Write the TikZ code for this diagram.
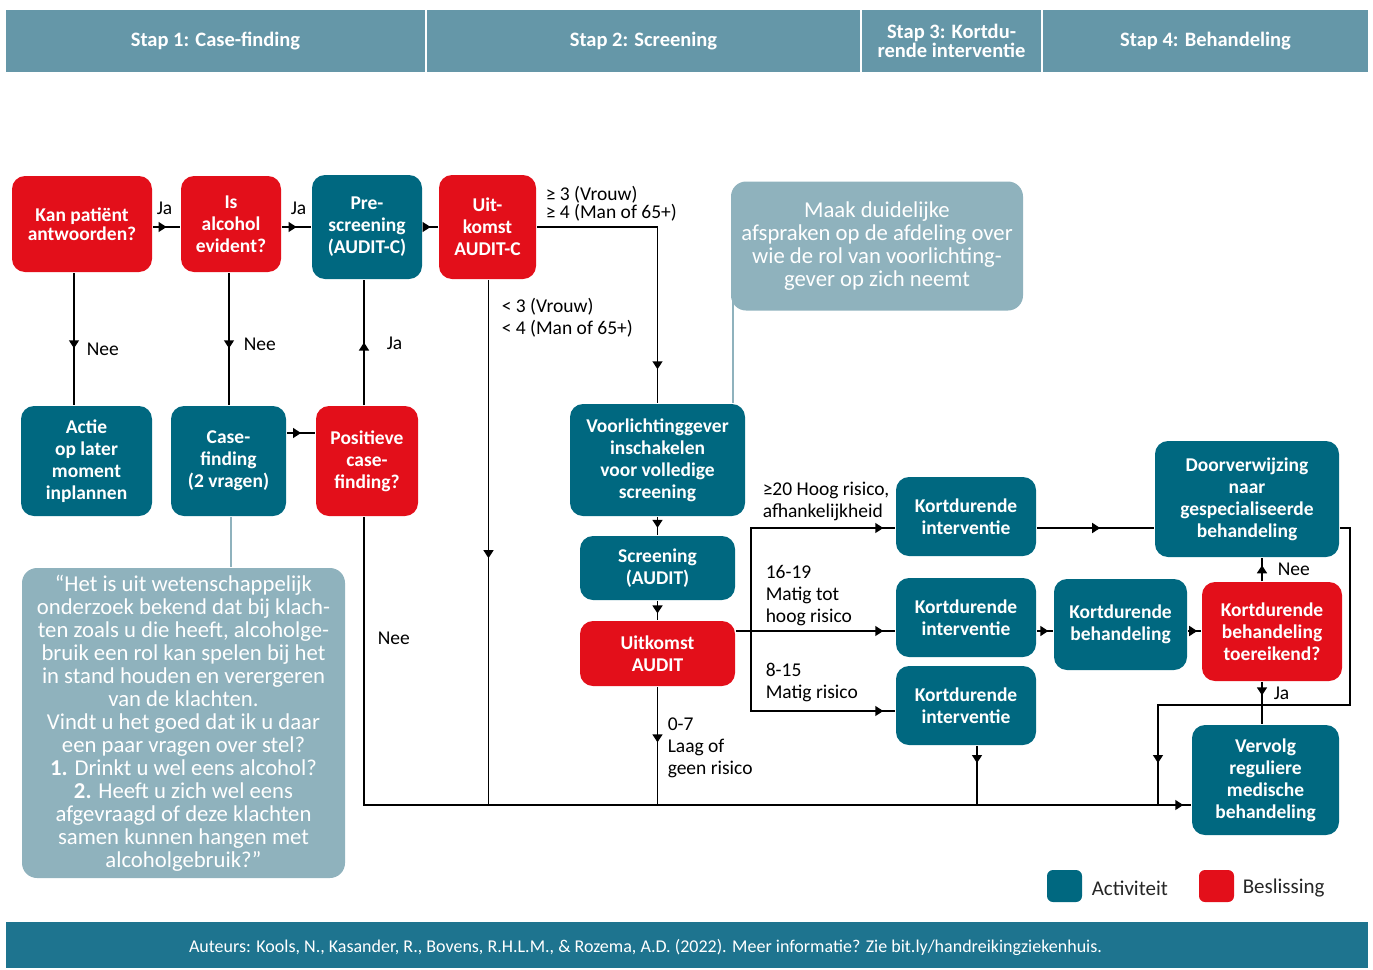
\documentclass[tikz,border=0pt]{standalone}
\usepackage{fontspec}
\setmainfont{Carlito}
\usetikzlibrary{arrows.meta, decorations.markings, positioning}

\definecolor{actblauw}{RGB}{0,104,128}
\definecolor{besrood}{RGB}{227,15,26}
\definecolor{notegrijs}{RGB}{143,178,189}
\definecolor{kopblauw}{RGB}{101,151,168}
\definecolor{voetblauw}{RGB}{30,116,143}

\begin{document}
\begin{tikzpicture}[
    x=1pt, y=-1pt,
    line width=1.5pt,
    >={Triangle[width=10pt,length=8pt]},
    pijl/.style={postaction={decorate},
      decoration={markings, mark=at position #1 with {\arrow{>}}}},
    pijl/.default=0.5,
    maat/.style 2 args={minimum width=#1, minimum height=#2},
    blok/.style={rounded corners=13pt, text=white, align=center, inner sep=0pt,
      font=\bfseries\fontsize{19.5}{22}\selectfont},
    activiteit/.style={blok, fill=actblauw},
    beslissing/.style={blok, fill=besrood},
    toelichting/.style={rounded corners=15pt, fill=notegrijs, text=white, align=center,
      inner sep=0pt, font=\fontsize{22.7}{23}\selectfont},
    stap/.style={fill=kopblauw, text=white, align=center, inner sep=0pt, minimum height=62,
      font=\bfseries\fontsize{20.5}{19}\selectfont},
    bijschrift/.style={anchor=west, align=left, inner sep=0pt,
      font=\fontsize{19.5}{22}\selectfont},
    notelijn/.style={draw=notegrijs, line width=2pt}
  ]
  \useasboundingbox (0,0) rectangle (1373,969);

  % --- KOPBALK ---
  \node[stap, minimum width=419] (stap1) at (215.5,41) {Stap 1: Case-finding};
  \node[stap, minimum width=433] (stap2) at (643.5,41) {Stap 2: Screening};
  \node[stap, minimum width=179] (stap3) at (951.5,41) {Stap 3: Kortdu-\\rende interventie};
  \node[stap, minimum width=325] (stap4) at (1205.5,41) {Stap 4: Behandeling};

  % --- STAP 1: CASE-FINDING ---
  \node[beslissing, maat={140}{96}] (kan) at (82,224) {Kan patiënt\\[-3pt]antwoorden?};
  \node[beslissing, maat={100}{96}] (alc) at (231,224) {Is\\alcohol\\evident?};
  \node[activiteit, maat={110}{104}] (pre) at (367,227) {Pre-\\screening\\(AUDIT-C)};
  \node[beslissing, maat={97}{104}] (uitc) at (487.5,227) {Uit-\\komst\\AUDIT-C};
  \node[activiteit, maat={131}{110}] (actie) at (86.5,461) {Actie\\op later\\moment\\inplannen};
  \node[activiteit, maat={115}{110}] (case) at (228.5,461) {Case-\\finding\\(2 vragen)};
  \node[beslissing, maat={102}{110}] (pos) at (367,461) {Positieve\\case-\\finding?};

  % toelichting bij de twee vragen
  \node[toelichting, maat={323}{310}] (citaat) at (183.5,723) {%
    “Het is uit wetenschappelijk\\
    onderzoek bekend dat bij klach-\\
    ten zoals u die heeft, alcoholge-\\
    bruik een rol kan spelen bij het\\
    in stand houden en verergeren\\
    van de klachten.\\
    Vindt u het goed dat ik u daar\\
    een paar vragen over stel?\\
    \textbf{1.} Drinkt u wel eens alcohol?\\
    \textbf{2.} Heeft u zich wel eens\\
    afgevraagd of deze klachten\\
    samen kunnen hangen met\\
    alcoholgebruik?”};

  % --- STAP 2: SCREENING ---
  \node[toelichting, maat={292}{129}] (afspraak) at (877,246)
    {Maak duidelijke\\afspraken op de afdeling over\\wie de rol van voorlichting-\\gever op zich neemt};
  \node[activiteit, maat={175}{112}] (voor) at (657.5,460) {Voorlichtinggever\\inschakelen\\voor volledige\\screening};
  \node[activiteit, maat={155}{64}] (scr) at (657.5,568) {Screening\\(AUDIT)};
  \node[beslissing, maat={155}{65}] (uita) at (657.5,653.5) {Uitkomst\\AUDIT};

  % --- STAP 3: KORTDURENDE INTERVENTIE ---
  \node[activiteit, maat={140}{79}] (ki1) at (966,516.5) {Kortdurende\\interventie};
  \node[activiteit, maat={140}{79}] (ki2) at (966,617.5) {Kortdurende\\interventie};
  \node[activiteit, maat={140}{79}] (ki3) at (966,705.5) {Kortdurende\\interventie};

  % --- STAP 4: BEHANDELING ---
  \node[activiteit, maat={133}{91}] (kb) at (1120.5,624.5) {Kortdurende\\behandeling};
  \node[activiteit, maat={184}{116}] (door) at (1247,499) {Doorverwijzing\\naar\\gespecialiseerde\\behandeling};
  \node[beslissing, maat={140}{99}] (toer) at (1272,631.5) {Kortdurende\\behandeling\\toereikend?};
  \node[activiteit, maat={147}{110}] (verv) at (1265.5,780) {Vervolg\\reguliere\\medische\\behandeling};

  % hulppunten voor de lijnen
  \coordinate (onder) at (364,805);
  \coordinate (tak) at (751,631);
  \coordinate (omweg) at (1350,705);
  \coordinate (omweg2) at (1158,705);

  % --- VERBINDINGEN ---
  % stap 1
  \draw[pijl] (kan.east |- pre.west) -- (alc.west |- pre.west);
  \draw[pijl] (alc.east |- pre.west) -- (pre.west);
  \draw[pijl] (pre.east) -- (uitc.west);
  \draw[pijl=0.57] ([xshift=-8pt]kan.south) -- ([xshift=-8pt]kan.south |- actie.north);
  \draw[pijl=0.57] ([xshift=-2pt]alc.south) -- ([xshift=-2pt]alc.south |- case.north);
  \draw[pijl] ([xshift=-3pt]pos.north) -- ([xshift=-3pt]pos.north |- pre.south);
  \draw[pijl] ([yshift=28pt]case.east) -- ([yshift=28pt]pos.west);
  \draw[pijl=-8pt] ([xshift=-3pt]pos.south) |- ([yshift=-25pt]verv.west);

  % uitkomst AUDIT-C
  \draw[pijl=0.53] ([xshift=1pt]uitc.south) -- ([xshift=1pt]uitc.south |- onder);
  \draw[pijl=-34pt] (uitc.east) -| (voor.north);

  % stap 2
  \draw[pijl=0.6] (voor.south) -- (scr.north);
  \draw[pijl=0.65] (scr.south) -- (uita.north);
  \draw[pijl=0.47] (uita.south) -- (uita.south |- onder);
  \draw[pijl=-12pt] (uita.east |- tak) -- (ki2.west |- tak);
  \draw[pijl=-12pt] (tak) |- ([yshift=-11.5pt]ki1.west);
  \draw[pijl=-12pt] (tak) |- ([yshift=-5.5pt]ki3.west);

  % stap 3 en 4
  \draw[pijl=0.54] ([yshift=-11.5pt]ki1.east) -- ([yshift=-29pt]door.west);
  \draw[pijl=0.7] (ki2.east |- tak) -- (kb.west |- tak);
  \draw[pijl=0.7] (kb.east |- tak) -- (toer.west |- tak);
  \draw[pijl=0.68] ([xshift=-10pt]toer.north) -- ([xshift=-10pt]toer.north |- door.south);
  \draw[pijl=0.32] ([xshift=-10pt]toer.south) -- ([xshift=-10pt]toer.south |- verv.north);
  \draw[pijl=-42pt] ([yshift=-29pt]door.east) -| (omweg) -- (omweg2) -- (omweg2 |- onder);
  \draw[pijl=-42pt] ([xshift=11pt]ki3.south) -- ([xshift=11pt]ki3.south |- onder);

  % toelichtingslijnen
  \draw[notelijn] ([xshift=3pt,yshift=10pt]afspraak.south west) -- ([xshift=3pt]afspraak.south west |- voor.north);
  \draw[notelijn] ([xshift=2pt]case.south) -- ([xshift=2pt]case.south |- citaat.north);

  % --- BIJSCHRIFTEN ---
  \node[bijschrift] (ja1) at (156,208) {Ja};
  \node[bijschrift] (ja2) at (290,208) {Ja};
  \node[bijschrift] (nee1) at (86,349) {Nee};
  \node[bijschrift] (nee2) at (243,344) {Nee};
  \node[bijschrift] (ja3) at (386,343) {Ja};
  \node[bijschrift] (nee3) at (377,638) {Nee};
  \node[bijschrift, font=\fontsize{19.5}{16.5}\selectfont] (hoog) at (545,204) {≥ 3 (Vrouw)\\≥ 4 (Man of 65+)};
  \node[bijschrift] (laag) at (501,318) {< 3 (Vrouw)\\< 4 (Man of 65+)};
  \node[bijschrift] (l07) at (667,748) {0-7\\Laag of\\geen risico};
  \node[bijschrift] (l20) at (762,501) {≥20 Hoog risico,\\afhankelijkheid};
  \node[bijschrift] (l16) at (765,596) {16-19\\Matig tot\\hoog risico};
  \node[bijschrift] (l8) at (765,683) {8-15\\Matig risico};
  \node[bijschrift] (nee4) at (1277,569) {Nee};
  \node[bijschrift] (ja4) at (1273,693) {Ja};

  % --- LEGENDA ---
  \node[activiteit, maat={35}{32}, rounded corners=6pt] (legact) at (1064.5,886) {};
  \node[bijschrift, font=\fontsize{21}{22}\selectfont, text=black!85] (legacttekst) at (1091,888) {Activiteit};
  \node[beslissing, maat={35}{32}, rounded corners=6pt] (legbes) at (1216.5,886) {};
  \node[bijschrift, font=\fontsize{21}{22}\selectfont, text=black!85] (legbestekst) at (1242,888) {Beslissing};

  % --- VOETTEKST ---
  \fill[voetblauw] (6,922) rectangle (1368,968);
  \node[font=\fontsize{18}{20}\selectfont, text=white, inner sep=0pt] (bron) at (645.5,947)
    {Auteurs: Kools, N., Kasander, R., Bovens, R.H.L.M., \& Rozema, A.D. (2022). Meer informatie? Zie bit.ly/handreikingziekenhuis.};

\end{tikzpicture}
\end{document}
